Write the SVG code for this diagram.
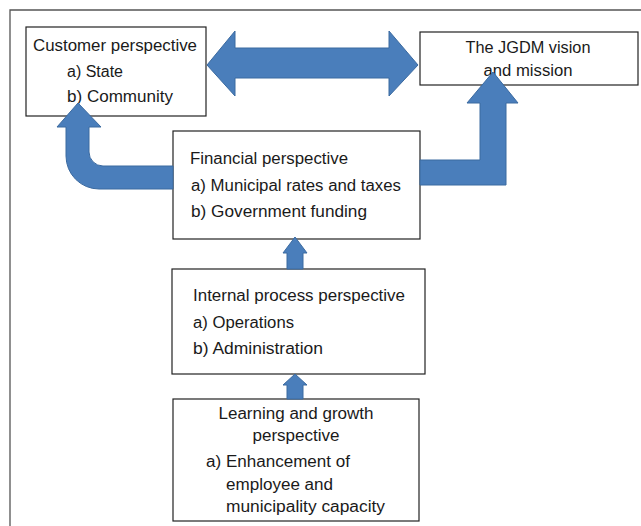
<svg xmlns="http://www.w3.org/2000/svg" width="641" height="526" viewBox="0 0 641 526">
<style>
.box{fill:#fff;stroke:#222;stroke-width:1.2}
.t{font-family:"Liberation Sans",Arial,sans-serif;font-size:16px;fill:#1a1a1a}
.c{text-anchor:middle}
.arr{fill:#4a7ebb;stroke:#3b6aa0;stroke-width:1}
.frame{fill:none;stroke:#555;stroke-width:1.3}
</style>
<rect width="641" height="526" fill="#fff"/>
<path class="frame" d="M10 526 L10 10 L641 10"/>
<g id="customer">
<rect class="box" x="26" y="27" width="180" height="89"/>
<text class="t" x="33" y="51" textLength="164" lengthAdjust="spacingAndGlyphs">Customer perspective</text>
<text class="t" x="67" y="77" textLength="56" lengthAdjust="spacingAndGlyphs">a) State</text>
<text class="t" x="67" y="102" textLength="106" lengthAdjust="spacingAndGlyphs">b) Community</text>
</g>
<g id="jgdm">
<rect class="box" x="420" y="32" width="218" height="53"/>
<text class="t c" x="528" y="53" textLength="125" lengthAdjust="spacingAndGlyphs">The JGDM vision</text>
<text class="t c" x="528" y="76" textLength="89" lengthAdjust="spacingAndGlyphs">and mission</text>
</g>
<g id="financial">
<rect class="box" x="173" y="131" width="247" height="108"/>
<text class="t" x="190" y="164" textLength="158" lengthAdjust="spacingAndGlyphs">Financial perspective</text>
<text class="t" x="191" y="191" textLength="210" lengthAdjust="spacingAndGlyphs">a) Municipal rates and taxes</text>
<text class="t" x="191" y="217" textLength="176" lengthAdjust="spacingAndGlyphs">b) Government funding</text>
</g>
<g id="internal">
<rect class="box" x="172" y="269" width="253" height="105"/>
<text class="t" x="193" y="301" textLength="212" lengthAdjust="spacingAndGlyphs">Internal process perspective</text>
<text class="t" x="193" y="328" textLength="101" lengthAdjust="spacingAndGlyphs">a) Operations</text>
<text class="t" x="193" y="354" textLength="130" lengthAdjust="spacingAndGlyphs">b) Administration</text>
</g>
<g id="learning">
<rect class="box" x="173" y="399" width="246" height="122"/>
<text class="t c" x="296" y="419" textLength="155" lengthAdjust="spacingAndGlyphs">Learning and growth</text>
<text class="t c" x="296" y="441" textLength="87" lengthAdjust="spacingAndGlyphs">perspective</text>
<text class="t" x="206" y="467" textLength="144" lengthAdjust="spacingAndGlyphs">a) Enhancement of</text>
<text class="t" x="226" y="490" textLength="107" lengthAdjust="spacingAndGlyphs">employee and</text>
<text class="t" x="226" y="512" textLength="159" lengthAdjust="spacingAndGlyphs">municipality capacity</text>
</g>
<g id="connectors">
<path class="arr" d="M207 65 L235 31 L235 48 L389 48 L389 31 L418 65 L389 96 L389 78 L235 78 L235 96 Z"/>
<path class="arr" d="M173 166 L103 166 A14 14 0 0 1 89 152 L89 127 L101 127 L78 103 L57 127 L66 127 L66 156 A33 33 0 0 0 99 189 L173 189 Z"/>
<path class="arr" d="M420 160 L480 160 L480 103 L467 103 L493 72 L518 103 L506 103 L506 185 L420 185 Z"/>
<path class="arr" d="M287 269 L287 253 L283 253 L295 237 L307 253 L303 253 L303 269 Z"/>
<path class="arr" d="M287 399 L287 385 L283 385 L295 374 L307 385 L303 385 L303 399 Z"/>
</g>
</svg>
